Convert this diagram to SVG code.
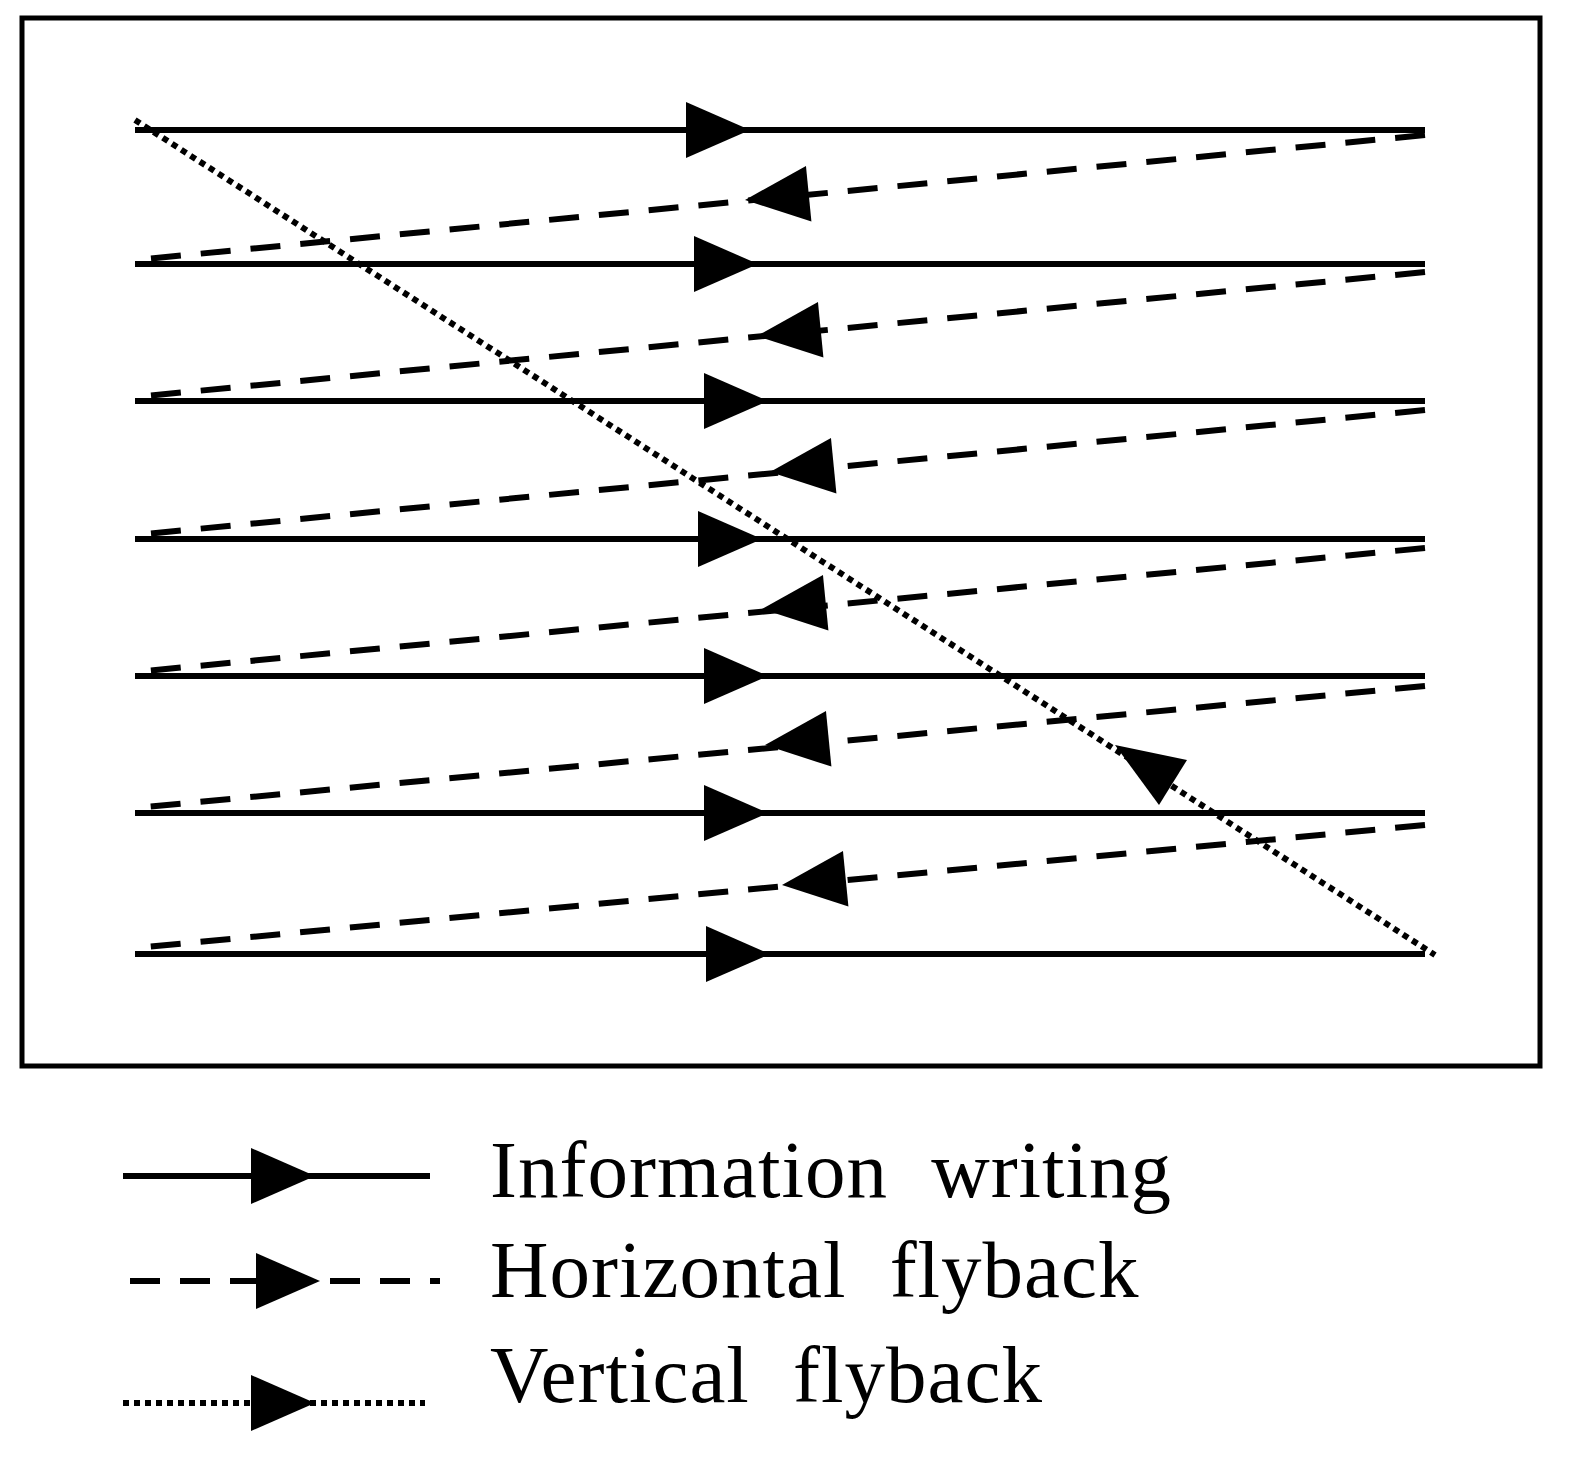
<svg xmlns="http://www.w3.org/2000/svg" width="1574" height="1466" viewBox="0 0 1574 1466">
<style>
.s{stroke:#000;stroke-width:6;fill:none}
.d{stroke:#000;stroke-width:6;fill:none;stroke-dasharray:30 20}
.o{stroke:#000;stroke-width:6;fill:none;stroke-dasharray:6 5}
.t{font-family:"Liberation Serif",serif;font-size:81px;fill:#000;letter-spacing:1px;word-spacing:22px}
</style>
<defs><path id="ah" d="M0,0 L-64,-28 L-64,28 Z" fill="#000"/></defs>
<rect x="22" y="18" width="1518" height="1048" fill="#fff" stroke="#000" stroke-width="5"/>
<g id="connectors">
<path class="s" d="M135,130H1425M135,264H1425M135,401H1425M135,539H1425M135,676H1425M135,813H1425M135,954H1425"/>
<path class="d" d="M1425,135L135,260M1425,272L135,397M1425,410L135,535M1425,548L135,672M1425,686L135,808M1425,825L135,948"/>
<path class="o" d="M135,120L1435,955"/>
<use href="#ah" transform="translate(750,130)"/>
<use href="#ah" transform="translate(758,264)"/>
<use href="#ah" transform="translate(768,401)"/>
<use href="#ah" transform="translate(762,539)"/>
<use href="#ah" transform="translate(768,676)"/>
<use href="#ah" transform="translate(768,813)"/>
<use href="#ah" transform="translate(770,954)"/>
<use href="#ah" transform="translate(745,200) rotate(174.4)"/>
<use href="#ah" transform="translate(757,336) rotate(174.4)"/>
<use href="#ah" transform="translate(770,472) rotate(174.4)"/>
<use href="#ah" transform="translate(762,609) rotate(174.4)"/>
<use href="#ah" transform="translate(765,745) rotate(174.4)"/>
<use href="#ah" transform="translate(782,885) rotate(174.4)"/>
<polygon points="1115,745 1187,760 1159,805" fill="#000"/>
</g>
<g id="legend">
<path class="s" d="M123,1176H430"/><use href="#ah" transform="translate(315,1176)"/>
<path class="d" d="M130,1281H440"/><use href="#ah" transform="translate(320,1281)"/>
<path class="o" d="M123,1403H425"/><use href="#ah" transform="translate(315,1403)"/>
<text class="t" x="490" y="1197">Information writing</text>
<text class="t" x="490" y="1297">Horizontal flyback</text>
<text class="t" x="490" y="1402">Vertical flyback</text>
</g>
</svg>
